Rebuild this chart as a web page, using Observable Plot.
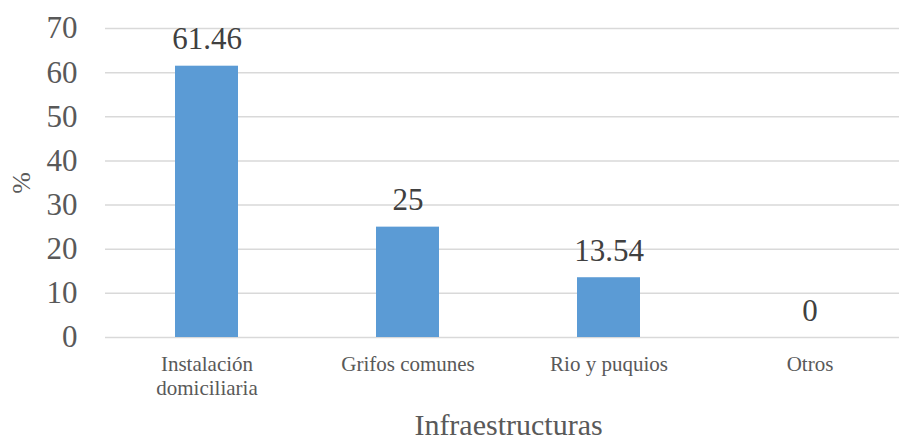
<!DOCTYPE html>
<html>
<head>
<meta charset="utf-8">
<script src="https://cdn.jsdelivr.net/npm/d3@7"></script>
<script src="https://cdn.jsdelivr.net/npm/@observablehq/plot@0.6"></script>
<style>
  html, body { margin: 0; padding: 0; background: #fff; overflow: hidden; font-family: "Liberation Serif", serif; }
  #chart { width: 899px; height: 440px; overflow: hidden; }
</style>
</head>
<body>
<div id="chart"></div>
<script>
const categories = ["Instalación domiciliaria", "Grifos comunes", "Rio y puquios", "Otros"];
const tickLabels = ["Instalación\ndomiciliaria", "Grifos comunes", "Rio y puquios", "Otros"];
const values = [61.46, 25, 13.54, 0];
const valueLabels = ["61.46", "25", "13.54", "0"];
const yTicks = [0, 10, 20, 30, 40, 50, 60, 70];
const xTitle = "Infraestructuras";
const yTitle = "%";

const data = categories.map((c, i) => ({cat: c, value: values[i], label: valueLabels[i]}));
const labelOf = new Map(categories.map((c, i) => [c, tickLabels[i]]));

const FF = "Liberation Serif";

const chart = Plot.plot({
  width: 899,
  height: 440,
  marginLeft: 105,
  marginRight: -12,
  marginTop: 28,
  marginBottom: 103,
  style: {background: "#fff", overflow: "hidden", fontFamily: FF},
  x: {domain: categories, paddingInner: 0.687, paddingOuter: 0.3435},
  y: {domain: [0, 70]},
  marks: [
    Plot.ruleY(yTicks, {stroke: "#d9d9d9", strokeWidth: 1.5}),
    Plot.barY(data, {x: "cat", y: "value", fill: "#5b9bd5"}),
    Plot.text(data, {x: "cat", y: "value", text: "label", lineAnchor: "bottom", dy: -17, fontSize: 31, fontFamily: FF, fill: "#404040"}),
    Plot.axisY({ticks: yTicks, tickSize: 0, tickPadding: 28, fontSize: 31, fontFamily: FF, color: "#595959", label: null}),
    Plot.axisX({tickSize: 0, tickPadding: 17, fontSize: 21, fontFamily: FF, color: "#595959", lineHeight: 1.12,
      tickFormat: d => labelOf.get(d), label: null}),
    Plot.text([xTitle], {frameAnchor: "bottom", lineAnchor: "middle", dy: 88, fontSize: 30, fontFamily: FF, fill: "#595959"}),
    Plot.text([yTitle], {frameAnchor: "left", textAnchor: "middle", lineAnchor: "middle", rotate: -90, dx: -84, fontSize: 26, fontFamily: FF, fill: "#595959"})
  ]
});

document.getElementById("chart").appendChild(chart);
</script>
</body>
</html>
